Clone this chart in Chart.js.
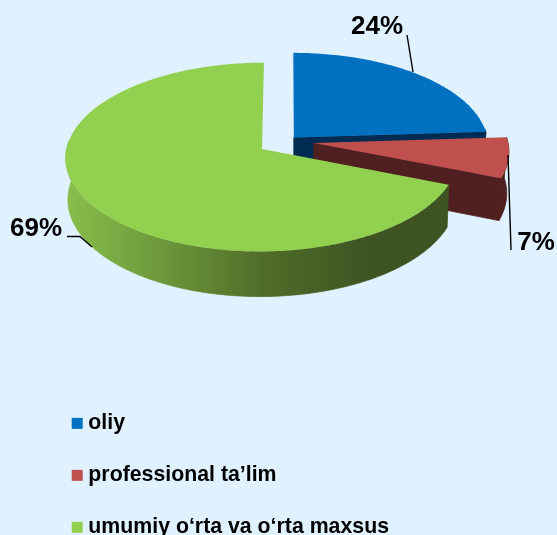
<!DOCTYPE html>
<html><head><meta charset="utf-8">
<style>html,body{margin:0;padding:0;background:#E0F2FF;overflow:hidden}#w{position:relative;width:557px;height:535px}#c{display:block}</style>
<script src="https://cdn.jsdelivr.net/npm/chart.js@4"></script>
</head><body><div id="w"><canvas id="c"></canvas></div>
<script>
const categories = ['oliy', 'professional ta’lim', 'umumiy o‘rta va o‘rta maxsus'];
const shares = [24, 7, 69];
const pieLabels = ['24%', '7%', '69%'];
const topColors = ['#0070C0', '#C0504D', '#92D050'];
const wallColors = ['#002C54', '#4F201F', null];
const sliceOffsets = [10, 27, 30];

const view = {ox: 287, oy: 141, k: 0.476, p: 0.000432, depth: 41, shrink: 0.99};
const labelStyle = {font: 'bold 26px "Liberation Sans", Arial, sans-serif', color: '#000'};
const labelSpots = [[377, 27], [536, 243], [36, 229]];
const leaders = [[[407, 35], [413, 72]], [[508, 155], [511, 250]], [[67, 236.5], [80, 236.5], [92, 247]]];

function proj(u, v, low) {
  const w = 1 - view.p * v;
  let x = view.ox + u / w, y = view.oy + view.k * v / w;
  if (low) { x = view.ox + (x - view.ox) * view.shrink; y += view.depth / w; }
  return [x, y];
}
function sliceGeom(a, low) {
  const mid = (a.startAngle + a.endAngle) / 2, off = a.options.offset;
  const dx = Math.cos(mid) * off, dy = Math.sin(mid) * off, pts = [], front = [];
  const n = Math.ceil((a.endAngle - a.startAngle) * 60);
  for (let i = 0; i <= n; i++) {
    const t = a.startAngle + (a.endAngle - a.startAngle) * i / n;
    const p = proj(dx + Math.cos(t) * a.outerRadius, dy + Math.sin(t) * a.outerRadius, low);
    pts.push(p);
    if (Math.sin(t) > -0.1) front.push(p);
  }
  return {pts, front, apex: proj(dx, dy, low)};
}
function fillPoly(ctx, pts, style, seal) {
  ctx.beginPath();
  pts.forEach((p, i) => i ? ctx.lineTo(p[0], p[1]) : ctx.moveTo(p[0], p[1]));
  ctx.closePath();
  ctx.fillStyle = style;
  ctx.fill();
  if (seal) { ctx.strokeStyle = style; ctx.lineWidth = 0.8; ctx.lineJoin = 'round'; ctx.stroke(); }
}
function wallStyle(ctx, i) {
  if (wallColors[i]) return wallColors[i];
  const g = ctx.createLinearGradient(65, 0, 449, 0);
  g.addColorStop(0, '#88BF4B');
  g.addColorStop(0.52, '#4F6D29');
  g.addColorStop(0.8, '#3D5322');
  g.addColorStop(1, '#3D5322');
  return g;
}
const pie3d = {
  id: 'pie3d',
  afterLayout(chart) {
    const lg = chart.legend;
    lg.left = 46; lg.top = 382; lg.bottom = 382 + lg.height;
  },
  beforeDatasetDraw(chart, args) {
    const ctx = chart.ctx, arcs = args.meta.data;
    ctx.save();
    arcs.forEach((a, i) => {
      const hi = sliceGeom(a, false), lo = sliceGeom(a, true), style = wallStyle(ctx, i);
      const last = hi.pts.length - 1;
      if (-Math.cos(a.startAngle) > 1e-3) fillPoly(ctx, [hi.apex, hi.pts[0], lo.pts[0], lo.apex], style, true);
      if (Math.cos(a.endAngle) > 1e-3) fillPoly(ctx, [hi.apex, hi.pts[last], lo.pts[last], lo.apex], style, true);
      if (hi.front.length > 1) fillPoly(ctx, hi.front.concat(lo.front.slice().reverse()), style, true);
      fillPoly(ctx, [hi.apex].concat(hi.pts), a.options.backgroundColor, false);
    });
    ctx.restore();
    return false;
  },
  afterDraw(chart) {
    const ctx = chart.ctx;
    ctx.save();
    ctx.strokeStyle = '#000';
    ctx.lineWidth = 1.4;
    leaders.forEach(l => {
      ctx.beginPath();
      l.forEach((p, i) => i ? ctx.lineTo(p[0], p[1]) : ctx.moveTo(p[0], p[1]));
      ctx.stroke();
    });
    ctx.font = labelStyle.font;
    ctx.fillStyle = labelStyle.color;
    ctx.textAlign = 'center';
    ctx.textBaseline = 'middle';
    pieLabels.forEach((t, i) => ctx.fillText(t, labelSpots[i][0], labelSpots[i][1]));
    ctx.restore();
  }
};
new Chart(document.getElementById('c'), {
  type: 'pie',
  data: {labels: categories, datasets: [{data: shares, backgroundColor: topColors, offset: sliceOffsets, borderWidth: 0}]},
  options: {
    responsive: true,
    maintainAspectRatio: false,
    animation: false,
    events: [],
    layout: {padding: {left: 17, right: 0, top: 0, bottom: 117}},
    plugins: {
      tooltip: {enabled: false},
      legend: {
        position: 'chartArea',
        align: 'start',
        labels: {
          boxWidth: 1, boxHeight: 1, padding: 30.7, color: '#000',
          font: {family: '"Liberation Sans", Arial, sans-serif', size: 21.3, weight: 'bold'},
          generateLabels: () => categories.map((text, i) => ({
            text, fillStyle: topColors[i], strokeStyle: topColors[i], lineWidth: 10, lineJoin: 'miter', index: i, hidden: false
          }))
        }
      }
    }
  },
  plugins: [pie3d]
});
</script>
</body></html>
